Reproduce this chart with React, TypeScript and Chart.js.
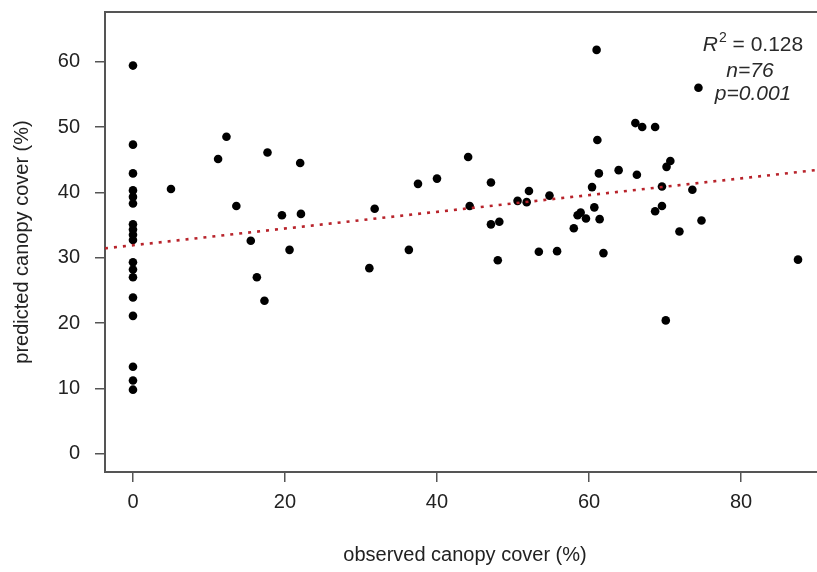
import React, { useEffect, useRef } from 'react';
import { Chart, registerables } from 'chart.js';

Chart.register(...registerables);

// ---- data ----
const xTicks = [0, 20, 40, 60, 80];
const yTicks = [0, 10, 20, 30, 40, 50, 60];

const observed = [
  0, 0, 0, 0, 0, 0, 0, 0, 0, 0, 0, 0, 0, 0, 0, 0, 0, 0,
  5.0, 11.2, 12.3, 13.6, 15.5, 16.3, 17.3, 17.7, 19.6, 20.6, 22.0, 22.1,
  31.1, 31.8, 36.3, 37.5, 40.0, 44.1, 44.3, 47.1, 47.1, 48.2, 48.0, 50.6, 51.8, 52.1,
  61.0, 74.4, 66.1, 67.0, 68.7, 61.1, 70.7, 70.2, 61.3, 63.9, 66.3, 60.4, 69.6, 73.6,
  54.8, 60.7, 58.9, 58.5, 59.6, 61.4, 69.6, 68.7, 58.0, 71.9, 74.8, 53.4, 55.8, 61.9,
  70.1, 87.5,
];
const predicted = [
  59.4, 47.3, 42.9, 40.3, 39.3, 38.3, 35.1, 34.3, 33.5, 32.7, 29.3, 28.2, 27.0, 23.9, 21.1, 13.3, 11.2, 9.8,
  40.5, 45.1, 48.5, 37.9, 32.6, 27.0, 23.4, 46.1, 36.5, 31.2, 44.5, 36.7,
  28.4, 37.5, 31.2, 41.3, 42.1, 45.4, 37.9, 41.5, 35.1, 35.5, 29.6, 38.7, 38.5, 40.2,
  61.8, 56.0, 50.6, 50.0, 50.0, 48.0, 44.8, 43.9, 42.9, 43.4, 42.7, 40.8, 40.9, 40.4,
  39.5, 37.7, 36.9, 36.5, 36.0, 35.9, 37.9, 37.1, 34.5, 34.0, 35.7, 30.9, 31.0, 30.7,
  20.4, 29.7,
];

const trendIntercept = 31.9;
const trendSlope = 0.128;

const statR2 = '0.128';
const statN = '76';
const statP = '0.001';

const xTitle = 'observed canopy cover (%)';
const yTitle = 'predicted canopy cover (%)';

// ---- axis ranges ----
const xMin = -3.68;
const xMax = 91.05;
const yMin = -2.8;
const yMax = 67.6;

const FAMILY = '"Liberation Sans", Arial, Helvetica, sans-serif';
const AXIS_COLOR = '#555';
const TEXT_COLOR = '#222';

const topBorder = {
  id: 'topBorder',
  afterDraw(chart: any) {
    const { ctx, chartArea } = chart;
    ctx.save();
    ctx.strokeStyle = AXIS_COLOR;
    ctx.lineWidth = 2;
    ctx.beginPath();
    ctx.moveTo(chartArea.left - 1, chartArea.top);
    ctx.lineTo(chartArea.right + 20, chartArea.top);
    ctx.stroke();
    ctx.restore();
  },
};

const statsText = {
  id: 'statsText',
  afterDraw(chart: any) {
    const { ctx, chartArea } = chart;
    const cx = chartArea.right - 72;
    const top = chartArea.top;
    ctx.save();
    ctx.fillStyle = '#2a2a2a';
    ctx.textBaseline = 'alphabetic';
    ctx.textAlign = 'left';
    const fItal = `italic 21px ${FAMILY}`;
    const fSup = `14px ${FAMILY}`;
    const fReg = `21px ${FAMILY}`;
    ctx.font = fItal;
    const wR = ctx.measureText('R').width;
    ctx.font = fSup;
    const w2 = ctx.measureText('2').width;
    ctx.font = fReg;
    const rest = ' = ' + statR2;
    const wRest = ctx.measureText(rest).width;
    const total = wR + w2 + 1 + wRest;
    let x = cx - total / 2;
    const b1 = top + 39;
    ctx.font = fItal;
    ctx.fillText('R', x, b1);
    x += wR + 1;
    ctx.font = fSup;
    ctx.fillText('2', x, b1 - 9);
    x += w2;
    ctx.font = fReg;
    ctx.fillText(rest, x, b1);
    ctx.textAlign = 'center';
    ctx.font = fItal;
    ctx.fillText('n=' + statN, cx - 3, top + 65);
    ctx.fillText('p=' + statP, cx, top + 88);
    ctx.restore();
  },
};

export default function App() {
  const ref = useRef<HTMLCanvasElement>(null);

  useEffect(() => {
    if (!ref.current) return;
    const points = observed.map((x, i) => ({ x, y: predicted[i] }));
    const trend = [
      { x: xMin, y: trendIntercept + trendSlope * xMin },
      { x: xMax, y: trendIntercept + trendSlope * xMax },
    ];
    const tickFont = { family: FAMILY, size: 20 };
    const chart = new Chart(ref.current, {
      type: 'scatter',
      data: {
        datasets: [
          {
            type: 'line',
            data: trend,
            borderColor: '#b8232b',
            borderWidth: 2.6,
            borderDash: [3, 6],
            pointRadius: 0,
            fill: false,
            order: 0,
          } as any,
          {
            data: points,
            backgroundColor: '#000',
            borderColor: '#000',
            borderWidth: 0,
            pointRadius: 4.3,
            order: 1,
          },
        ],
      },
      options: {
        responsive: false,
        animation: false,
        devicePixelRatio: 1,
        layout: { padding: { left: 0, right: 10, top: 12, bottom: 0 } },
        plugins: {
          legend: { display: false },
          tooltip: { enabled: false },
        },
        scales: {
          x: {
            type: 'linear',
            min: xMin,
            max: xMax,
            afterBuildTicks: (s: any) => {
              s.ticks = xTicks.map((v) => ({ value: v }));
            },
            afterFit: (s: any) => {
              s.height = 100;
              s.paddingLeft = 0;
              s.paddingRight = 0;
            },
            grid: {
              display: true,
              drawOnChartArea: false,
              drawTicks: true,
              tickLength: 10,
              color: AXIS_COLOR,
              lineWidth: 1.5,
            },
            border: { display: true, color: AXIS_COLOR, width: 2 },
            ticks: {
              font: tickFont,
              color: TEXT_COLOR,
              padding: 8,
              maxRotation: 0,
              autoSkip: false,
            },
            title: {
              display: true,
              text: xTitle,
              font: tickFont,
              color: TEXT_COLOR,
              padding: { top: 0, bottom: 5 },
            },
          },
          y: {
            type: 'linear',
            min: yMin,
            max: yMax,
            afterBuildTicks: (s: any) => {
              s.ticks = yTicks.map((v) => ({ value: v }));
            },
            afterFit: (s: any) => {
              s.width = 105;
              s.paddingTop = 0;
              s.paddingBottom = 0;
            },
            grid: {
              display: true,
              drawOnChartArea: false,
              drawTicks: true,
              tickLength: 10,
              color: AXIS_COLOR,
              lineWidth: 1.5,
            },
            border: { display: true, color: AXIS_COLOR, width: 2 },
            ticks: {
              font: tickFont,
              color: TEXT_COLOR,
              padding: 15,
              autoSkip: false,
            },
            title: {
              display: true,
              text: yTitle,
              font: tickFont,
              color: TEXT_COLOR,
              padding: { top: 10, bottom: 0 },
            },
          },
        },
      },
      plugins: [topBorder, statsText],
    });
    return () => chart.destroy();
  }, []);

  return (
    <div
      style={{
        position: 'fixed',
        left: 0,
        top: 0,
        width: 817,
        height: 572,
        overflow: 'hidden',
        background: '#fff',
      }}
    >
      <canvas
        ref={ref}
        width={835}
        height={572}
        style={{ display: 'block', width: 835, height: 572 }}
      />
    </div>
  );
}
